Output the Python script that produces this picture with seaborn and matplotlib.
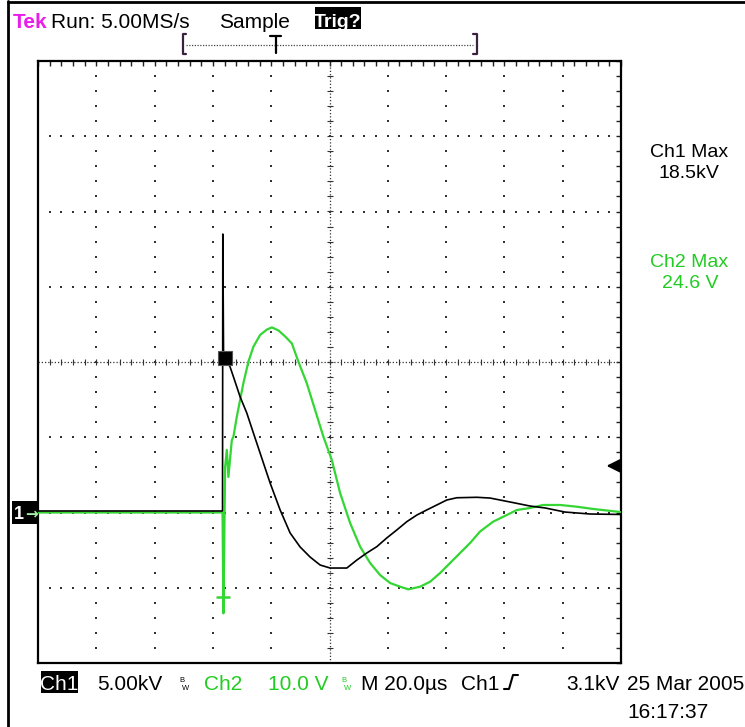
import matplotlib
matplotlib.use("Agg")
import numpy as np
import pandas as pd
import matplotlib.pyplot as plt
import seaborn as sns
from matplotlib.lines import Line2D
from matplotlib.patches import Rectangle
from matplotlib.ticker import MultipleLocator

sns.set_style("white")
plt.rcParams["font.family"] = ["Liberation Sans", "DejaVu Sans"]

# ---- acquisition settings ----
ch1_kv_per_div = 5.0
ch2_v_per_div = 10.0
us_per_div = 20.0
screen_left_us = -63.4        # time of left graticule edge, trigger at 0 µs
ground_div = -2.0             # both channels referenced 2 div below centre
trigger_level_kv = 3.1
ch1_max_kv = 18.5
ch2_max_v = 24.6

# ---- Ch1: high-voltage probe (kV) ----
ch1_time = [-63.4, -0.1, 0.0, 0.27, 1.13, 2.5, 3.64, 5.93, 8.23, 10.5, 13.93,
            16.23, 19.66, 23.09, 26.52, 29.95, 33.39, 36.82, 42.54, 45.97,
            49.4, 52.83, 56.26, 59.69, 63.12, 66.55, 69.98, 73.41, 76.84,
            80.27, 87.14, 91.7, 95.1, 100.3, 105.4, 110.6, 117.4, 126.0, 136.3]
ch1_kv = [0.1, 0.1, 18.5, 10.0, 10.13, 9.67, 9.02, 7.69, 6.61, 5.28, 3.29,
          1.96, 0.17, -1.36, -2.29, -2.96, -3.49, -3.69, -3.69, -3.16,
          -2.69, -2.27, -1.69, -1.16, -0.61, -0.17, 0.17, 0.50, 0.83,
          0.98, 1.01, 0.96, 0.83, 0.63, 0.43, 0.30, 0.03, -0.10, -0.13]

# ---- Ch2: secondary voltage (V) ----
ch2_time = [-63.4, -0.1, 0.21, 0.79, 1.37, 1.92,
            3.09, 3.64, 4.80, 5.93, 7.07, 8.78, 10.5, 12.8, 15.09, 16.81,
            19.07, 21.37, 23.67, 25.93, 28.82, 31.66, 34.51, 37.39, 40.24,
            43.67, 47.1, 50.53, 53.96, 57.39, 60.82, 63.67, 67.68, 71.11,
            74.54, 77.97, 81.4, 84.83, 88.26, 92.73, 97.43, 100.86, 105.42,
            109.88, 115.71, 121.44, 127.03, 136.3]
ch2_volts = [0.0, 0.0, -13.4, 6.05, 8.31, 4.72,
             9.63, 10.07, 12.73, 14.95, 17.21, 20.04, 22.03, 23.6, 24.3, 24.6,
             24.2, 23.4, 22.48, 20.04, 17.17, 13.62, 10.07, 6.98, 2.59,
             -1.40, -4.54, -6.71, -8.31, -9.37, -9.86, -10.21, -9.86, -9.20,
             -8.04, -6.71, -5.38, -4.05, -2.52, -1.22, -0.33, 0.33, 0.60,
             1.00, 1.00, 0.77, 0.47, 0.07]

ch1 = pd.DataFrame({"t": ch1_time, "v": ch1_kv})
ch2 = pd.DataFrame({"t": ch2_time, "v": ch2_volts})

W, H = 745, 727
fig = plt.figure(figsize=(W / 100, H / 100), dpi=100)
fig.patch.set_facecolor("white")


def fx(px):
    return px / W


def fy(py):
    return 1 - py / H


def ftext(px, py, s, **kw):
    kw.setdefault("va", "baseline")
    kw.setdefault("zorder", 10)
    return fig.text(fx(px), fy(py), s, **kw)


def fbox(x0, y0, x1, y1, color="black"):
    fig.add_artist(Rectangle((fx(x0), fy(y1)), fx(x1) - fx(x0), fy(y0) - fy(y1),
                             transform=fig.transFigure, color=color, lw=0,
                             zorder=5))


def fline(xs, ys, **kw):
    fig.add_artist(Line2D([fx(x) for x in xs], [fy(y) for y in ys],
                          transform=fig.transFigure, **kw))


# ---- graticule (division units) ----
rect = [fx(38), fy(663), fx(621) - fx(38), fy(61) - fy(663)]
gax = fig.add_axes(rect)
gax.set_xlim(-5, 5)
gax.set_ylim(-4, 4)
for s in gax.spines.values():
    s.set_linewidth(1.6)
    s.set_color("black")
gax.xaxis.set_major_locator(MultipleLocator(1))
gax.xaxis.set_minor_locator(MultipleLocator(0.2))
gax.yaxis.set_major_locator(MultipleLocator(1))
gax.yaxis.set_minor_locator(MultipleLocator(0.2))
gax.tick_params(which="both", direction="in", length=3.5, width=1.0,
                top=True, right=True, labelbottom=False, labelleft=False,
                color="#222222")

dot_kw = dict(ls="none", marker="s", ms=1.5, color="#333333", mew=0)
ys_fine = np.arange(-4, 4.001, 0.2)
xs_fine = np.arange(-5, 5.001, 0.2)
for xi in range(-4, 5):
    if xi != 0:
        gax.plot(np.full_like(ys_fine, xi), ys_fine, **dot_kw)
for yi in range(-3, 4):
    if yi != 0:
        gax.plot(xs_fine, np.full_like(xs_fine, yi), **dot_kw)
# centre cross: dense dotted line with small minor ticks
gax.axhline(0, ls=(0, (1, 1.6)), lw=0.9, color="#333333")
gax.axvline(0, ls=(0, (1, 1.6)), lw=0.9, color="#333333")
gax.plot(xs_fine, np.zeros_like(xs_fine), ls="none", marker="|", ms=5,
         mew=0.8, color="#333333")
gax.plot(np.zeros_like(ys_fine), ys_fine, ls="none", marker="_", ms=5,
         mew=0.8, color="#333333")

# ---- data axes: Ch1 in kV, Ch2 in V ----
ax1 = fig.add_axes(rect, facecolor="none")
ax1.set_xlim(screen_left_us, screen_left_us + 10 * us_per_div)
ax1.set_ylim((-4 - ground_div) * ch1_kv_per_div, (4 - ground_div) * ch1_kv_per_div)
ax2 = ax1.twinx()
ax2.set_ylim((-4 - ground_div) * ch2_v_per_div, (4 - ground_div) * ch2_v_per_div)

sns.lineplot(data=ch2, x="t", y="v", ax=ax2, color="#33d633", lw=1.6,
             sort=False, estimator=None)
sns.lineplot(data=ch1, x="t", y="v", ax=ax1, color="black", lw=1.2,
             sort=False, estimator=None)
ax1.set_zorder(3)
ax2.set_zorder(2)
for a in (ax1, ax2):
    a.set_axis_off()

# trigger point box on Ch1, trigger position mark on Ch2
ax1.plot([0.62], [10.27], marker="s", ms=10, mfc="black", mec="#555555",
         mew=0.8, clip_on=False)
ax2.plot([0.21], [-11.2], marker="_", ms=10, mew=1.8, color="#33d633",
         clip_on=False)

# trigger level indicator at right edge
ax1.annotate("", xy=(0.975, trigger_level_kv), xytext=(1.0, trigger_level_kv),
             xycoords=("axes fraction", "data"),
             textcoords=("axes fraction", "data"),
             arrowprops=dict(arrowstyle="-|>", color="black", lw=1.6,
                             mutation_scale=20, shrinkA=0, shrinkB=0))

# Ch1 ground marker at left
fbox(12, 501, 38, 524)
ftext(19, 519, "1", color="white", fontsize=13, fontweight="bold",
      ha="center")
ftext(31, 518, "→", color="#a8f0a8", fontsize=11, fontweight="bold",
      ha="center", family="DejaVu Sans")

# ---- outer frame ----
fline([8, 8], [1, 727], color="black", lw=2)
fline([8, 745], [1.5, 1.5], color="black", lw=2)

# ---- top status line ----
ftext(13, 28, "Tek", color="#e81ee8", fontsize=15, fontweight="bold")
ftext(51, 28, "Run: 5.00MS/s", color="black", fontsize=15)
ftext(219, 28, "Sample", color="black", fontsize=15)
fbox(315, 7, 361, 29)
ftext(338, 27, "Trig?", color="white", fontsize=14, fontweight="bold",
      ha="center")

# record position bracket
bc = "#3b2140"
fline([186, 183, 183, 186], [34, 34, 54, 54], color=bc, lw=1.6)
fline([473, 477, 477, 473], [34, 34, 54, 54], color=bc, lw=1.6)
fline([186, 473], [45, 45], color="#444444", lw=0.9, ls=(0, (1, 1.2)))
fline([270, 281], [36, 36], color="black", lw=1.6)
fline([275.5, 275.5], [36, 53], color="black", lw=1.6)

# ---- measurement readouts ----
ftext(689, 157, "Ch1 Max", color="black", fontsize=14, ha="center")
ftext(689, 178, f"{ch1_max_kv:.1f}kV", color="black", fontsize=14, ha="center")
ftext(689, 267, "Ch2 Max", color="#22cc22", fontsize=14, ha="center")
ftext(690, 288, f"{ch2_max_v:.1f} V", color="#22cc22", fontsize=14, ha="center")

# ---- bottom settings line ----
fbox(41, 671, 78, 693)
ftext(59.5, 690, "Ch1", color="white", fontsize=15, ha="center")
ftext(97, 690, f"{ch1_kv_per_div:.2f}kV", color="black", fontsize=15)
ftext(179, 682, "B", color="black", fontsize=5.5)
ftext(182, 690, "W", color="black", fontsize=5.5)
ftext(204, 690, "Ch2", color="#22cc22", fontsize=15)
ftext(268, 690, f"{ch2_v_per_div:.1f} V", color="#22cc22", fontsize=15)
ftext(341, 682, "B", color="#22cc22", fontsize=5.5)
ftext(344, 690, "W", color="#22cc22", fontsize=5.5)
ftext(361, 690, f"M {us_per_div:.1f}µs", color="black", fontsize=15)
ftext(461, 690, "Ch1", color="black", fontsize=15)
fline([504, 509, 513, 518], [689, 689, 675, 675], color="black", lw=1.5)
ftext(620, 690, f"{trigger_level_kv:.1f}kV", color="black", fontsize=15,
      ha="right")
ftext(627, 690, "25 Mar 2005", color="black", fontsize=15)
ftext(627, 718, "16:17:37", color="black", fontsize=15)

fig.savefig("out.png", dpi=100, facecolor="white")
